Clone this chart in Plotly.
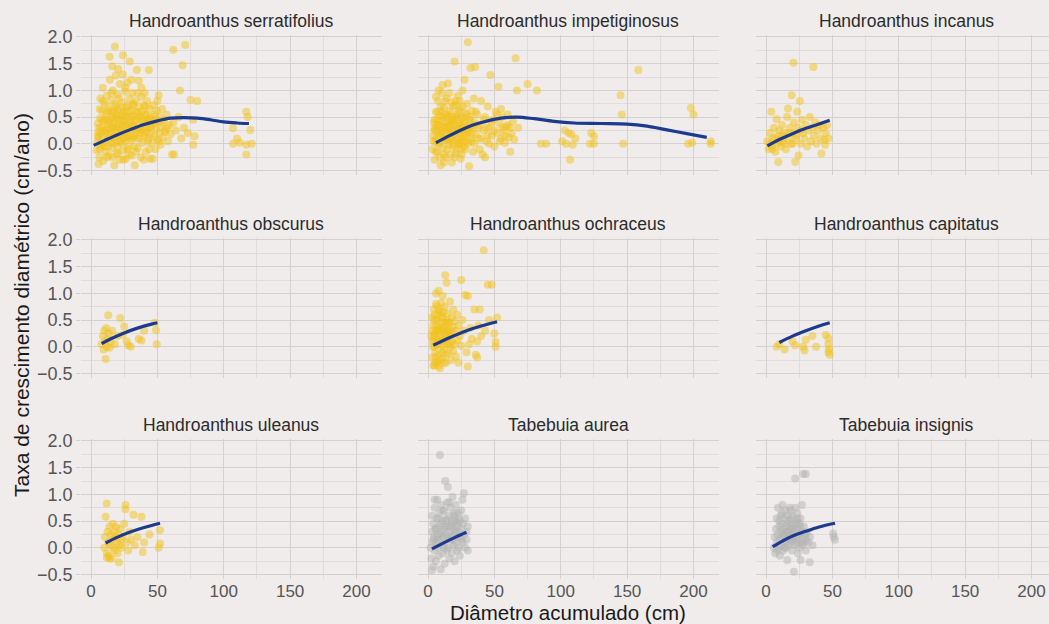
import plotly.graph_objects as go

# ---------------- DATA ----------------
species = ["Handroanthus serratifolius", "Handroanthus impetiginosus", "Handroanthus incanus",
           "Handroanthus obscurus", "Handroanthus ochraceus", "Handroanthus capitatus",
           "Handroanthus uleanus", "Tabebuia aurea", "Tabebuia insignis"]
genus = ["Handroanthus"] * 7 + ["Tabebuia"] * 2

x_ticks = [0, 50, 100, 150, 200]
y_ticks = [-0.5, 0.0, 0.5, 1.0, 1.5, 2.0]

serr_pts = [
    (4.2,-0.12),(4.8,0.05),(5.5,0.22),(5.1,0.38),(6.3,-0.25),(6.0,0.12),(6.9,0.48),(7.4,-0.05),(7.7,0.3),(8.2,0.62),
    (8.6,0.15),(9.1,-0.32),(9.4,0.42),(9.8,0.02),(10.3,0.75),(10.6,0.25),(11.0,-0.15),(11.4,0.55),(11.9,0.9),(12.3,0.08),
    (12.6,0.36),(7.1,0.85),(5.7,-0.38),(8.9,1.05),
    (13.1,0.68),(13.5,-0.22),(13.9,0.18),(14.2,1.2),(14.6,0.45),(15.0,0.02),(15.3,0.82),(15.7,0.32),(16.1,-0.08),(16.4,1.0),
    (16.8,0.58),(17.2,0.12),(17.5,-0.4),(17.9,0.74),(18.2,0.28),(18.6,1.28),(18.9,0.48),(19.3,-0.18),(19.6,0.05),(20.0,0.92),
    (20.4,0.38),(20.7,0.64),(21.1,0.16),(21.5,-0.3),(21.8,1.12),(22.2,0.52),(22.5,0.26),(14.0,1.63),(18.0,1.82),(16.0,1.45),
    (20.5,1.4),(15.5,0.95),(19.0,0.7),(21.0,0.85),(13.2,0.3),(17.0,0.42),
    (23.0,0.02),(23.4,0.78),(23.8,0.42),(24.1,1.66),(24.5,-0.12),(24.8,0.6),(25.2,0.22),(25.6,0.98),(25.9,0.35),(26.3,-0.28),
    (26.7,0.68),(27.0,0.12),(27.4,1.15),(27.8,0.5),(28.1,0.28),(28.5,-0.05),(28.9,0.85),(29.2,1.54),(29.6,0.4),(30.0,0.08),
    (30.3,0.62),(30.7,-0.22),(31.1,0.95),(31.4,0.3),(31.8,0.52),(32.2,0.15),(24.0,1.3),(26.0,1.05),(30.5,1.2),(28.0,0.72),
    (23.5,0.3),(32.0,0.75),
    (33.0,-0.4),(33.3,0.45),(33.7,0.8),(34.1,0.2),(34.5,1.38),(34.8,0.58),(35.2,-0.08),(35.6,0.35),(36.0,1.18),(36.3,0.68),
    (36.7,0.1),(37.1,0.5),(37.5,-0.25),(37.8,0.88),(38.2,0.25),(38.6,0.6),(39.0,0.02),(39.3,0.42),(39.7,0.72),(40.1,0.15),
    (40.5,0.95),(40.8,0.38),(41.2,-0.15),(41.6,0.55),(42.0,0.22),(42.3,0.8),(42.7,0.05),(43.1,0.45),(43.5,1.38),(43.8,0.3),
    (44.2,0.65),(44.6,-0.28),(45.0,0.18),(35.0,0.95),(38.0,1.05),(41.0,0.7),
    (45.5,0.5),(46.0,0.02),(46.5,0.35),(47.0,0.72),(47.5,0.15),(48.0,0.55),(48.5,-0.1),(49.0,0.28),(49.5,0.62),(50.0,0.08),
    (50.5,0.42),(51.0,0.91),(51.5,0.2),(52.0,0.5),(52.5,-0.02),(53.0,0.32),(53.5,0.65),(54.0,0.12),(55.0,0.45),(56.0,0.22),
    (57.0,0.55),(58.0,0.05),(59.0,0.35),(60.0,0.18),(61.0,-0.2),(62.0,0.4),(46.5,-0.28),(50.0,0.8),
    (62.0,1.76),(71.0,1.85),(69.0,1.47),(67.0,1.0),(64.0,0.25),(66.0,0.5),(62.5,-0.2),(68.0,0.1),(70.0,0.3),(75.0,0.82),
    (80.0,0.8),(77.0,0.45),(78.0,0.14),(77.0,-0.02),(73.0,0.2),
    (117,0.6),(118,0.5),(107,0.29),(120,0.26),(107,0.0),(112,0.02),(117,-0.02),(117,-0.2),(121,0.0),(110,0.1),
    (5.2,0.15),(6.1,0.3),(6.6,-0.1),(7.3,0.2),(8.0,0.0),(8.4,0.45),(9.6,0.25),(10.1,-0.05),(10.8,0.45),(11.6,0.2),
    (12.1,0.6),(12.9,-0.05),(13.6,0.4),(14.3,0.1),(14.8,0.62),(15.4,0.2),(15.9,0.5),(16.6,0.28),(17.3,0.6),(17.7,0.02),
    (18.4,0.15),(19.1,0.32),(19.8,0.55),(20.2,-0.05),(20.9,0.3),(21.4,0.45),(22.0,0.05),(22.7,0.68),(23.2,0.18),(23.9,0.55),
    (24.4,0.1),(25.0,0.42),(25.5,0.05),(26.1,0.52),(26.5,0.2),(27.2,0.36),(27.6,-0.1),(28.3,0.6),(28.7,0.15),(29.4,0.25),
    (29.9,0.5),(30.6,0.35),(31.2,0.1),(31.6,0.72),(32.4,0.4),(32.8,-0.05),(33.5,0.25),(34.3,0.6),(34.9,0.1),(35.8,0.5),
    (36.5,0.25),(37.3,0.3),(38.4,0.45),(39.5,0.2),(40.3,0.55),(41.4,0.3),(42.5,0.4),(43.3,0.1),(44.0,0.48),(45.2,0.3),
    (47.2,0.4),(49.2,0.45),(51.2,0.05),(53.2,0.4),(55.5,0.25),(57.5,0.3),(6.5,0.65),(9.0,0.8),(12.0,-0.25),(16.2,-0.25),
    (20.6,-0.18),(24.6,-0.3),(29.0,-0.2),(33.8,-0.15),(39.8,-0.3),(43.8,-0.1),
]
serr_fit_x = [2, 10, 20, 30, 40, 50, 60, 70, 80, 90, 100, 110, 119]
serr_fit_y = [-0.03, 0.06, 0.17, 0.27, 0.36, 0.43, 0.48, 0.49, 0.48, 0.45, 0.41, 0.39, 0.38]

impe_pts = [
    (3.5,-0.1),(4.0,0.15),(4.5,0.4),(5.0,-0.3),(5.5,0.05),(6.0,0.6),(6.5,0.25),(7.0,-0.15),(7.5,0.8),(8.0,0.35),
    (8.5,0.0),(9.0,0.52),(9.5,-0.4),(10.0,0.2),(10.5,0.95),(11.0,0.42),(11.5,-0.08),(12.0,0.68),(12.5,0.1),(13.0,0.3),
    (13.5,-0.25),(14.0,0.85),(14.5,0.5),(15.0,1.13),(15.5,0.18),(16.0,-0.02),(16.5,0.62),(17.0,0.35),(17.5,0.78),(18.0,-0.35),
    (18.5,0.08),(19.0,0.45),(19.5,0.25),(20.0,1.54),(20.5,0.72),(21.0,-0.18),(21.5,0.55),(22.0,0.12),(22.5,0.9),(23.0,0.38),
    (23.5,0.02),(24.0,0.65),(24.5,-0.28),(25.0,0.28),(25.5,0.48),(26.0,1.0),(26.5,0.15),(27.0,-0.05),(27.5,1.2),(28.0,0.58),
    (28.5,0.32),(29.0,0.05),(29.5,0.75),(30.0,1.9),(30.5,0.22),(31.0,-0.42),(31.5,0.45),(32.0,1.42),(32.5,0.1),(33.0,0.62),
    (33.5,0.3),(34.0,-0.15),(34.5,0.85),(35.0,0.4),(35.5,1.44),(36.0,0.18),(8.0,1.0),(12.0,-0.35),(16.0,0.95),(20.0,-0.25),
    (24.0,0.0),(6.0,0.88),(10.0,0.6),(14.0,0.1),(18.0,0.4),(22.0,0.3),(26.0,0.7),(30.0,0.0),(5.0,0.3),(9.0,0.15),
    (13.0,0.55),(17.0,0.2),(21.0,0.8),(25.0,-0.1),(29.0,0.4),(11.0,1.1),(7.0,0.45),(19.0,-0.05),(15.0,0.32),(23.0,0.6),
    (27.0,0.25),(33.0,0.05),
    (37,0.55),(38,0.1),(39,0.35),(40,0.8),(41,-0.2),(42,0.25),(43,0.5),(44,0.05),(45,0.7),(46,0.3),
    (47,1.29),(48,0.15),(49,0.45),(50,-0.05),(51,0.6),(52,0.2),(53,1.07),(54,0.38),(55,0.1),(56,0.5),
    (57,0.25),(58,0.02),(59,0.32),(60,0.55),(61,0.12),(62,-0.15),(63,0.2),(64,0.42),(66,1.6),(67,1.0),
    (65,0.08),(68,0.3),
    (75,1.12),(82,1.0),(85,0.0),(89,0.0),(101,0.05),(103,0.25),(106,0.2),(108,0.18),(111,0.1),(104,0.0),
    (109,-0.02),(107,-0.3),(123,0.2),(125,0.14),(122,0.0),(125,0.0),(145,0.91),(146,0.55),(147,0.0),(158.5,1.38),
    (198,0.67),(200,0.55),(196,0.0),(199,0.02),(213,0.0),(213,0.05),
    (4.2,0.05),(4.8,0.25),(5.3,0.45),(5.8,-0.15),(6.3,0.1),(6.8,0.35),(7.3,0.6),(7.8,0.0),(8.3,0.2),(8.8,-0.25),
    (9.3,0.35),(9.8,0.7),(10.3,0.05),(10.8,0.25),(11.3,0.5),(11.8,-0.2),(12.3,0.3),(12.8,0.8),(13.3,0.1),(13.8,0.4),
    (14.3,-0.1),(14.8,0.25),(15.3,0.55),(15.8,0.05),(16.3,0.4),(16.8,-0.2),(17.3,0.1),(17.8,0.5),(18.3,0.25),(18.8,0.7),
    (19.3,0.0),(19.8,0.35),(20.3,0.15),(20.8,0.5),(21.3,-0.1),(21.8,0.25),(22.3,0.45),(22.8,0.0),(23.3,0.2),(23.8,0.8),
    (24.3,0.35),(24.8,0.1),(25.3,-0.2),(25.8,0.3),(26.3,0.5),(26.8,0.05),(27.3,0.4),(27.8,0.15),(28.3,-0.1),(28.8,0.25),
    (29.3,0.55),(29.8,0.2),(31.0,0.3),(32.0,0.5),(33.0,0.2),(34.0,0.35),(35.0,0.0),(36.0,0.6),(38.0,0.3),(40.0,0.1),
    (42.0,0.45),(44.0,0.3),(46.0,0.0),(48.0,0.4),(50.0,0.25),(52.0,0.55),(54.0,0.05),(56.0,0.3),(58.0,0.15),(60.0,0.35),
    (62.0,0.3),(55.0,0.65),(45.0,0.15),(39.0,-0.1),(43.0,-0.25),
]
impe_fit_x = [6, 15, 25, 35, 45, 55, 67, 80, 95, 110, 130, 150, 165, 180, 195, 210]
impe_fit_y = [0.02, 0.14, 0.26, 0.36, 0.43, 0.48, 0.50, 0.47, 0.42, 0.39, 0.38, 0.37, 0.33, 0.26, 0.19, 0.12]

inca_pts = [
    (1,0.05),(2,-0.1),(3,0.2),(4,0.6),(4.5,-0.05),(5,0.1),(6,0.3),(7,-0.15),(8,0.46),(8.5,0.0),
    (9,0.15),(9.3,-0.34),(10,0.25),(11,-0.05),(12,0.35),(13,0.05),(14,0.2),(15,-0.1),(16,0.5),(16.6,0.66),
    (17,0.1),(18,0.3),(19,0.0),(19.4,0.91),(20,0.2),(20.6,1.52),(21,0.4),(22,-0.34),(22.5,0.1),(23.5,0.6),
    (24,0.3),(24.5,-0.22),(25.5,0.8),(26,0.0),(27,0.45),(28,0.2),(29,0.1),(30,0.35),(31,-0.05),(32,0.25),
    (33,0.5),(34,0.05),(35,0.3),(35.7,1.44),(36,0.15),(37,0.4),(38,0.0),(39,0.25),(40,0.35),(41,0.1),
    (41.7,-0.18),(43,0.3),(44,0.07),(44.5,-0.02),(45,0.2),(46,0.35),(47,0.1),
    (3,0.0),(5,-0.1),(7,0.1),(10,0.05),(12,0.15),(14,0.0),(17,0.2),(20,0.0),(23,0.15),(26,0.25),
]
inca_fit_x = [1, 10, 20, 30, 40, 48]
inca_fit_y = [-0.04, 0.08, 0.19, 0.29, 0.37, 0.44]

obsc_pts = [
    (8,0.05),(9,0.2),(9.5,-0.05),(10,0.3),(10.5,0.1),(11,-0.23),(11.5,0.35),(12,0.0),(12.5,0.15),(13,0.59),
    (13.5,0.25),(14,-0.02),(15,0.1),(16,0.3),(18,0.05),(20,0.2),(22,0.54),(24,0.22),(25,0.38),(27,0.1),
    (28,0.03),(30,0.0),(36,0.15),(38,0.12),(40,0.3),(49,0.31),(49.5,0.05),(48,0.45),
]
obsc_fit_x = [8, 15, 25, 35, 45, 50]
obsc_fit_y = [0.06, 0.15, 0.26, 0.35, 0.42, 0.45]

ochr_pts = [
    (3,-0.2),(3.5,0.1),(4,0.4),(4,-0.35),(4.5,0.25),(5,0.0),(5,0.6),(5.5,-0.1),(6,0.3),(6,0.8),
    (6.5,0.15),(7,-0.28),(7,0.5),(7.5,0.05),(8,0.35),(8,-0.15),(8.5,0.68),(9,0.2),(9,-0.4),(9.5,0.45),
    (10,0.0),(10,0.82),(10.5,0.3),(11,-0.22),(11,0.55),(11.5,0.12),(12,0.4),(12,-0.05),(12.5,0.75),(13,0.22),
    (13,1.34),(13.5,-0.3),(14,0.5),(14,1.2),(14.5,0.05),(15,0.3),(15,0.62),(15.5,-0.12),(16,0.18),(16,0.45),
    (16.5,0.85),(17,0.0),(17,0.32),(17.5,-0.25),(18,0.55),(18,0.1),(18.5,0.38),(19,-0.08),(19,0.7),(19.5,0.25),
    (20,0.05),(20,0.48),(21,-0.18),(21,0.3),(22,0.6),(22,0.12),(23,0.4),(23,-0.3),(24,0.2),(25,0.02),
    (25,1.25),(26,0.5),(27,0.3),(28,0.97),(29,-0.1),(30,0.95),(30,-0.37),(31,0.05),(32,0.35),(33,0.15),
    (35,0.7),(36,-0.15),(37,0.1),(37,-0.2),(38,0.4),(39,0.7),(40,0.2),(42,1.81),(43,0.3),(45,1.16),
    (46,0.5),(48,1.16),(50,0.25),(51,0.09),(51,0.0),(52,0.55),(5,-0.35),(2.5,0.2),(3,0.55),(6,1.0),
    (8,1.05),(11,0.95),
    (3.2,0.3),(3.8,0.0),(4.3,0.15),(4.8,0.5),(5.3,0.2),(5.8,-0.2),(6.3,0.4),(6.8,0.05),(7.3,0.3),(7.8,0.6),
    (8.3,0.1),(8.8,-0.25),(9.3,0.3),(9.8,0.15),(10.3,0.55),(10.8,-0.1),(11.3,0.35),(11.8,0.65),(12.3,0.1),(12.8,0.25),
    (13.3,0.45),(13.8,-0.15),(14.3,0.3),(14.8,0.15),(15.3,0.45),(15.8,0.25),(16.3,0.05),(4.5,0.7),(7,0.75),(9.5,0.65),
    (5.5,-0.3),(8,-0.35),(12,-0.3),
]
ochr_fit_x = [4, 10, 20, 30, 40, 52]
ochr_fit_y = [0.03, 0.10, 0.21, 0.31, 0.39, 0.47]

capi_pts = [
    (8,0.0),(10,0.05),(14,-0.05),(20,0.1),(22,0.03),(28,0.0),(29,-0.07),(30,0.13),(35,0.2),(37.7,0.0),
    (45,0.22),(47,0.16),(47,0.05),(47.5,-0.04),(47,-0.1),(48,-0.15),
]
capi_fit_x = [10, 20, 30, 40, 48]
capi_fit_y = [0.08, 0.20, 0.30, 0.39, 0.45]

ulea_pts = [
    (10,0.0),(10.5,0.2),(11,0.58),(11.8,0.83),(12,-0.1),(12.5,0.3),(13,0.1),(13.5,-0.15),(14,0.4),(14.5,0.05),
    (15,0.25),(15.5,-0.2),(16,0.15),(16.5,0.45),(17,0.0),(17.5,0.3),(18,-0.05),(18.5,0.2),(19,0.39),(19.5,0.1),
    (20,-0.1),(20.5,0.25),(21,-0.27),(21.5,0.05),(22,0.35),(22.5,0.15),(23,0.0),(24,0.2),(25,0.45),(26,0.8),
    (26,0.72),(27,0.1),(28,-0.05),(29,0.3),(30,0.15),(32,0.62),(33,0.05),(35,0.2),(38,0.58),(39,-0.08),
    (40,0.1),(44,0.25),(51,0.0),(52,0.08),(52,0.33),(12,-0.18),(14,-0.2),
]
ulea_fit_x = [11, 20, 30, 40, 52]
ulea_fit_y = [0.09, 0.20, 0.30, 0.38, 0.46]

aure_pts = [
    (2,0.0),(2.5,-0.2),(3,0.3),(3,0.6),(3.5,0.1),(4,-0.35),(4,0.45),(4.5,0.2),(5,-0.05),(5,0.75),
    (5.5,0.35),(6,0.1),(6,-0.25),(6.5,0.55),(7,0.25),(7,0.9),(7.5,0.0),(8,0.4),(8,-0.15),(8.5,0.65),
    (9,0.15),(9,1.74),(9.5,-0.4),(10,0.3),(10,0.8),(10.5,0.05),(11,0.5),(11,-0.1),(11.5,0.2),(12,0.7),
    (12,0.35),(12.5,-0.3),(13,0.1),(13,1.25),(13.5,0.55),(14,0.25),(14,-0.05),(14.5,0.85),(15,1.14),(15,0.4),
    (15.5,0.0),(16,0.6),(16,-0.2),(16.5,0.3),(17,0.15),(17,0.75),(17.5,0.45),(18,-0.1),(18,0.2),(18.5,0.95),
    (19,0.35),(19,0.05),(19.5,0.6),(20,-0.25),(20,0.25),(20.5,0.5),(21,0.1),(21,0.8),(21.5,0.4),(22,-0.05),
    (22,0.2),(22.5,0.65),(23,0.3),(23,0.0),(24,0.5),(24,-0.15),(24.5,0.2),(25,0.7),(25,0.35),(26,0.1),
    (26,0.9),(26.5,0.45),(27,1.02),(27,0.25),(28,0.0),(28,0.55),(29,0.3),(29,0.15),(30,0.4),(30,-0.05),
    (3,-0.42),(5,0.9),(8,0.55),(10,0.45),(12,0.0),(16,0.85),(20,0.65),(14,0.5),(6,0.35),(18,0.5),
    (22,0.45),(9,0.25),(11,0.7),(13,0.4),(15,0.2),(17,0.4),(19,0.15),(21,0.3),(23,0.55),(25,0.15),
    (7,0.15),(4,0.15),
]
aure_fit_x = [3, 10, 20, 29]
aure_fit_y = [-0.02, 0.07, 0.19, 0.29]

insi_pts = [
    (6,0.0),(6.5,0.2),(7,-0.1),(7.5,0.35),(8,0.1),(8,0.55),(8.5,-0.05),(9,0.25),(9,0.75),(9.5,0.0),
    (10,0.4),(10,0.15),(10.5,-0.15),(11,0.6),(11,0.3),(11.5,0.05),(12,0.45),(12,0.2),(12.5,0.8),(13,-0.05),
    (13,0.35),(13.5,0.1),(14,0.55),(14,0.25),(14.5,0.7),(15,0.0),(15,0.4),(15.5,0.15),(16,-0.23),(16,0.6),
    (16.5,0.3),(17,0.05),(17,0.5),(17.5,0.2),(18,0.75),(18.5,0.7),(18.5,0.35),(19,0.1),(19,0.45),(19.5,-0.05),
    (20,0.25),(20,0.6),(20.5,0.15),(21,0.4),(21,-0.45),(21.5,0.05),(22,1.3),(22,0.3),(22.5,0.5),(23,0.1),
    (23,0.2),(23.5,0.65),(24,0.35),(24,-0.1),(24.5,0.15),(25,0.45),(25,0.0),(25.5,0.25),(26,-0.23),(26,0.55),
    (26.5,0.1),(27,0.8),(27,0.3),(27.5,0.05),(28,1.38),(28,0.2),(28.5,0.4),(29,0.1),(29.5,0.25),(30,1.38),
    (30,-0.05),(30.5,0.15),(31,0.3),(32,0.1),(33,-0.27),(33,0.2),(35,0.05),(50.6,0.27),(52,0.15),(51,0.2),
    (10,0.5),(12,0.65),(14,0.0),(16,0.45),(18,0.15),(20,0.35),(22,0.75),(24,0.55),(26,0.4),(13,0.25),
    (15,0.3),(17,0.3),(19,0.55),(21,0.2),(23,0.45),
]
insi_fit_x = [5, 12, 20, 30, 40, 52]
insi_fit_y = [0.02, 0.12, 0.22, 0.31, 0.39, 0.46]

points = [serr_pts, impe_pts, inca_pts, obsc_pts, ochr_pts, capi_pts, ulea_pts, aure_pts, insi_pts]
fits_x = [serr_fit_x, impe_fit_x, inca_fit_x, obsc_fit_x, ochr_fit_x, capi_fit_x, ulea_fit_x, aure_fit_x, insi_fit_x]
fits_y = [serr_fit_y, impe_fit_y, inca_fit_y, obsc_fit_y, ochr_fit_y, capi_fit_y, ulea_fit_y, aure_fit_y, insi_fit_y]

# ---------------- STYLE / LAYOUT ----------------
W, H = 1049, 624
BG = "#EFECEB"
GRID = "#D4D0CF"
GRID_MINOR = "#E0DCDB"
FONT = "Liberation Sans, Arial, sans-serif"
COLOR_POINT = {"Handroanthus": "#F2C21B", "Tabebuia": "#B3B3B3"}
LINE_COLOR = "#1D3A8F"

col_px0 = [91, 428, 766]          # pixel of x = 0 in each column
sx = 1.3275                       # px per cm
row_y2 = [37, 240, 441]           # pixel of y = 2.0 in each row
sy = 53.4                         # px per unit
x_lo, x_hi = -7.5, 219
y_lo, y_hi = -0.575, 2.03

fig = go.Figure()
annotations = []
layout_axes = {}

for i, name in enumerate(species):
    r, c = divmod(i, 3)
    ax_id = "" if i == 0 else str(i + 1)
    left = col_px0[c] + x_lo * sx
    right = min(col_px0[c] + x_hi * sx, W)
    xr_hi = (right - col_px0[c]) / sx
    top = row_y2[r] - (y_hi - 2.0) * sy
    bottom = row_y2[r] + (2.0 - y_lo) * sy

    pts = points[i]
    fig.add_trace(go.Scatter(
        x=[p[0] for p in pts], y=[p[1] for p in pts], mode="markers",
        marker=dict(size=8, color=COLOR_POINT[genus[i]], opacity=0.5, line=dict(width=0)),
        xaxis="x" + ax_id, yaxis="y" + ax_id, showlegend=False, hoverinfo="skip"))
    fig.add_trace(go.Scatter(
        x=fits_x[i], y=fits_y[i], mode="lines", line=dict(color=LINE_COLOR, width=3.2, shape="spline"),
        xaxis="x" + ax_id, yaxis="y" + ax_id, showlegend=False, hoverinfo="skip"))

    layout_axes["xaxis" + ax_id] = dict(
        domain=[left / W, right / W], range=[x_lo, xr_hi], anchor="y" + ax_id,
        tickmode="array", tickvals=x_ticks, showticklabels=(r == 2), ticks="",
        tickfont=dict(family=FONT, size=17, color="#555555"),
        showgrid=True, gridcolor=GRID, gridwidth=1, zeroline=False, showline=False,
        minor=dict(tickvals=[25, 75, 125, 175], showgrid=True, gridcolor=GRID_MINOR, gridwidth=1),
        automargin=False, fixedrange=True)
    layout_axes["yaxis" + ax_id] = dict(
        domain=[1 - bottom / H, 1 - top / H], range=[y_lo, y_hi], anchor="x" + ax_id,
        tickmode="array", tickvals=y_ticks, ticktext=[f"{v:.1f}".replace("-", "\u2212") for v in y_ticks],
        showticklabels=(c == 0),
        ticks="outside" if c == 0 else "", ticklen=4, tickcolor=GRID,
        tickfont=dict(family=FONT, size=18, color="#555555"),
        showgrid=True, gridcolor=GRID, gridwidth=1, zeroline=False, showline=False,
        minor=dict(tickvals=[-0.25, 0.25, 0.75, 1.25, 1.75], showgrid=True, gridcolor=GRID_MINOR, gridwidth=1),
        automargin=False, fixedrange=True)

    panel_center = (left + col_px0[c] + x_hi * sx) / 2
    annotations.append(dict(
        text=name, x=panel_center / W, y=1 - (top - 14) / H, xref="paper", yref="paper",
        xanchor="center", yanchor="middle", showarrow=False,
        font=dict(family=FONT, size=17.5, color="#2b2b2b")))

annotations.append(dict(
    text="Diâmetro acumulado (cm)", x=568 / W, y=1 - 612 / H, xref="paper", yref="paper",
    xanchor="center", yanchor="middle", showarrow=False,
    font=dict(family=FONT, size=20.5, color="#1a1a1a")))
annotations.append(dict(
    text="Taxa de crescimento diamétrico (cm/ano)", x=21 / W, y=1 - 305 / H, xref="paper", yref="paper",
    xanchor="center", yanchor="middle", showarrow=False, textangle=-90,
    font=dict(family=FONT, size=21, color="#1a1a1a")))

fig.update_layout(
    width=W, height=H, margin=dict(l=0, r=0, t=0, b=0),
    paper_bgcolor=BG, plot_bgcolor=BG,
    annotations=annotations, showlegend=False, **layout_axes)

fig.write_html("out.html", config={"displayModeBar": False}, post_script=(
    "document.body.style.margin='0';document.body.style.padding='0';"
    "document.body.style.background='" + BG + "';"))
